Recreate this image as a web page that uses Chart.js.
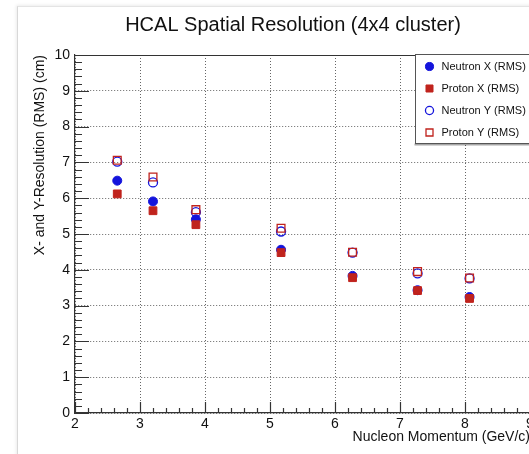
<!DOCTYPE html>
<html>
<head>
<meta charset="utf-8">
<script src="https://cdn.jsdelivr.net/npm/chart.js@4.4.7/dist/chart.umd.min.js"></script>
<style>
  html, body { margin: 0; padding: 0; background: #fff; }
  #wrap { position: relative; width: 529px; height: 454px; overflow: hidden; }
  #panel { position: absolute; left: 17px; top: 6px; width: 600px; height: 460px;
           border-left: 1px solid #d8d8d8; border-top: 1px solid #e4e4e4;
           box-shadow: -1px -1px 3px rgba(0,0,0,0.08); }
  #chart { position: absolute; left: 0; top: 0; }
</style>
</head>
<body>
<div id="wrap">
  <div id="panel"></div>
  <canvas id="chart" width="600" height="454"></canvas>
</div>
<script>
const momentum = [2.65, 3.2, 3.86, 5.17, 6.27, 7.27, 8.07]
const neutronX = [6.49, 5.91, 5.41, 4.56, 3.83, 3.43, 3.24]
const protonX = [6.12, 5.65, 5.26, 4.48, 3.78, 3.42, 3.2]
const neutronY = [7.02, 6.44, 5.61, 5.07, 4.48, 3.9, 3.76]
const protonY = [7.06, 6.59, 5.68, 5.16, 4.49, 3.95, 3.77]
const seriesNames = ["Neutron X (RMS)", "Proton X (RMS)", "Neutron Y (RMS)", "Proton Y (RMS)"]

const BLUE = "#1414dc"
const RED = "#c0231d"
const FONT = "'Liberation Sans', Arial, Helvetica, sans-serif"

const toPoints = ys => momentum.map((m, i) => ({ x: m, y: ys[i] }))

const styles = [
  { pointStyle: "circle", radius: 4.5, fill: BLUE, stroke: BLUE, width: 1, order: 1 },
  { pointStyle: "rect", radius: 5.5, fill: RED, stroke: RED, width: 1, order: 0 },
  { pointStyle: "circle", radius: 4.5, fill: "rgba(0,0,0,0)", stroke: BLUE, width: 1.3, order: 1 },
  { pointStyle: "rect", radius: 5.5, fill: "rgba(0,0,0,0)", stroke: RED, width: 1.3, order: 0 }
]

const datasets = [neutronX, protonX, neutronY, protonY].map((ys, i) => ({
  label: seriesNames[i],
  data: toPoints(ys),
  pointStyle: styles[i].pointStyle,
  pointRadius: styles[i].radius,
  pointHoverRadius: styles[i].radius,
  pointBackgroundColor: styles[i].fill,
  pointBorderColor: styles[i].stroke,
  pointBorderWidth: styles[i].width,
  showLine: false,
  order: styles[i].order
}))

// ROOT-like inward ticks, top frame, legend box and title
const frameDecor = {
  id: "frameDecor",
  afterDatasetsDraw(chart) {
    const { ctx, chartArea: a, scales: { x, y } } = chart
    ctx.save()
    ctx.strokeStyle = "#333"
    ctx.lineWidth = 1.2
    ctx.beginPath()
    ctx.moveTo(a.left, a.top + 0.5)
    ctx.lineTo(a.right, a.top + 0.5)
    for (let v = 0; v <= 10.001; v += 0.2) {
      const py = Math.round(y.getPixelForValue(v)) + 0.5
      const major = Math.abs(v - Math.round(v)) < 0.01
      ctx.moveTo(a.left, py)
      ctx.lineTo(a.left + (major ? 14 : 7), py)
    }
    for (let v = 2; v <= 9.001; v += 0.2) {
      const px = Math.round(x.getPixelForValue(v)) + 0.5
      const major = Math.abs(v - Math.round(v)) < 0.01
      ctx.moveTo(px, a.bottom)
      ctx.lineTo(px, a.bottom - (major ? 11 : 5))
    }
    ctx.stroke()

    // legend
    const lx = 415.5, ly = 54.5, lw = 140, lh = 89
    ctx.fillStyle = "rgba(0,0,0,0.35)"
    ctx.fillRect(lx - 1, ly + lh, lw, 2)
    ctx.fillStyle = "#fff"
    ctx.fillRect(lx, ly, lw, lh)
    ctx.strokeStyle = "#555"
    ctx.lineWidth = 1
    ctx.strokeRect(lx, ly, lw, lh)
    ctx.font = "11px " + FONT
    ctx.textBaseline = "middle"
    seriesNames.forEach((name, i) => {
      const cy = ly + 12 + i * 22
      const s = styles[i]
      ctx.fillStyle = s.fill
      ctx.strokeStyle = s.stroke
      ctx.lineWidth = s.width
      ctx.beginPath()
      if (s.pointStyle === "circle") {
        ctx.arc(lx + 14, cy, s.radius * 0.9, 0, Math.PI * 2)
      } else {
        const h = s.radius * 0.9 * Math.SQRT1_2
        ctx.rect(lx + 14 - h, cy - h, 2 * h, 2 * h)
      }
      ctx.fill()
      ctx.stroke()
      ctx.fillStyle = "#111"
      ctx.fillText(name, lx + 26, cy)
    })

    // title
    ctx.font = "20px " + FONT
    ctx.fillStyle = "#111"
    ctx.textAlign = "center"
    ctx.textBaseline = "alphabetic"
    ctx.fillText("HCAL Spatial Resolution (4x4 cluster)", 293, 31)
    ctx.restore()
  }
}

new Chart(document.getElementById("chart"), {
  type: "scatter",
  data: { datasets },
  plugins: [frameDecor],
  options: {
    responsive: false,
    animation: false,
    devicePixelRatio: 1,
    layout: { padding: { left: 0, top: 55, right: 70, bottom: 0 } },
    plugins: {
      legend: { display: false },
      tooltip: { enabled: false },
      title: { display: false }
    },
    scales: {
      x: {
        type: "linear",
        min: 2,
        max: 9,
        afterFit(s) { s.height = 41; s.paddingLeft = 0; s.paddingRight = 0 },
        ticks: { stepSize: 1, padding: 3, maxRotation: 0, color: "#111", font: { family: FONT, size: 14 } },
        grid: { color: "#666", lineWidth: 1, drawTicks: false },
        border: { display: true, color: "#333", width: 1.2, dash: [1, 2] },
        title: {
          display: true,
          text: "Nucleon Momentum (GeV/c)",
          align: "end",
          color: "#111",
          font: { family: FONT, size: 14 },
          padding: { top: 0, bottom: 8 }
        }
      },
      y: {
        min: 0,
        max: 10,
        afterFit(s) { s.width = 75; s.paddingTop = 0; s.paddingBottom = 0 },
        ticks: { stepSize: 1, padding: 5, color: "#111", font: { family: FONT, size: 14 } },
        grid: { color: "#666", lineWidth: 1, drawTicks: false },
        border: { display: true, color: "#333", width: 1.2, dash: [1, 2] },
        title: {
          display: true,
          text: "X- and Y-Resolution (RMS) (cm)",
          align: "end",
          color: "#111",
          font: { family: FONT, size: 14 },
          padding: { top: 32, bottom: 0 }
        }
      }
    }
  }
})
</script>
</body>
</html>
